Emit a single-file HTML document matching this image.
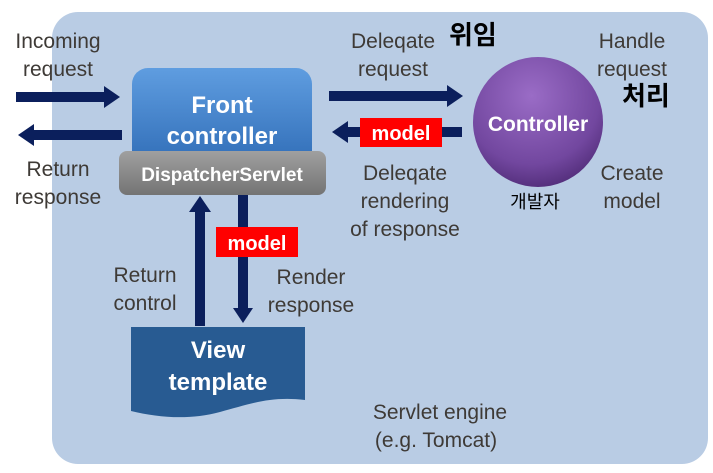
<!DOCTYPE html>
<html><head><meta charset="utf-8"><style>
html,body{margin:0;padding:0;background:#fff;}
svg{display:block;}
text{font-family:"Liberation Sans","Noto Sans CJK KR",sans-serif;}
</style></head><body>
<svg width="713" height="473" viewBox="0 0 713 473" xmlns="http://www.w3.org/2000/svg">
<defs>
<linearGradient id="fc" x1="0" y1="0" x2="0" y2="1"><stop offset="0" stop-color="#5f9de0"/><stop offset="1" stop-color="#2f6cb6"/></linearGradient>
<linearGradient id="ds" x1="0" y1="0" x2="0" y2="1"><stop offset="0" stop-color="#a0a0a0"/><stop offset="1" stop-color="#747474"/></linearGradient>
<radialGradient id="cc" cx="0.45" cy="0.3" r="0.75"><stop offset="0" stop-color="#9a6cc6"/><stop offset="0.7" stop-color="#72479f"/><stop offset="1" stop-color="#4e2a75"/></radialGradient>
</defs>
<rect x="52" y="12" width="656" height="452" rx="26" fill="#b9cce4"/>
<g fill="#3e3a36" font-size="21" text-anchor="middle">
<text x="58" y="48">Incoming</text><text x="58" y="76">request</text>
<text x="58" y="176">Return</text><text x="58" y="204">response</text>
<text x="393" y="48">Deleqate</text><text x="393" y="76">request</text>
<text x="632" y="48">Handle</text><text x="632" y="76">request</text>
<text x="405" y="180">Deleqate</text><text x="405" y="208">rendering</text><text x="405" y="236">of response</text>
<text x="632" y="180">Create</text><text x="632" y="208">model</text>
<text x="145" y="282">Return</text><text x="145" y="310">control</text>
<text x="311" y="284">Render</text><text x="311" y="312">response</text>
<text x="440" y="419">Servlet engine</text><text x="436" y="447">(e.g. Tomcat)</text>
</g>
<g fill="#000" font-size="26" font-weight="bold"><text x="449" y="44">위임</text><text x="622" y="105">처리</text></g>
<text x="535" y="208" font-size="18" text-anchor="middle" fill="#000">개발자</text>
<g fill="#0b1f5c">
<rect x="16" y="92" width="88" height="10"/><polygon points="104,86 120,97 104,108"/>
<rect x="34" y="130" width="88" height="10"/><polygon points="34,124 18,135 34,146"/>
<rect x="329" y="91" width="118" height="10"/><polygon points="447,85 463,96 447,107"/>
<rect x="348" y="127" width="114" height="10"/><polygon points="348,121 332,132 348,143"/>
<rect x="195" y="210" width="10" height="116"/><polygon points="189,212 200,196 211,212"/>
<rect x="238" y="194" width="10" height="114"/><polygon points="233,308 243,323 253,308"/>
</g>
<rect x="132" y="68" width="180" height="100" rx="16" fill="url(#fc)"/>
<g fill="#fff" font-weight="bold" font-size="24" text-anchor="middle"><text x="222" y="113">Front</text><text x="222" y="144">controller</text></g>
<rect x="119" y="151" width="207" height="44" rx="8" fill="url(#ds)"/>
<text x="222" y="181" fill="#fff" font-weight="bold" font-size="19" text-anchor="middle">DispatcherServlet</text>
<rect x="216" y="227" width="82" height="30" fill="#ff0000"/>
<text x="257" y="250" fill="#fff" font-weight="bold" font-size="20" text-anchor="middle">model</text>
<rect x="360" y="118" width="82" height="29" fill="#ff0000"/>
<text x="401" y="140" fill="#fff" font-weight="bold" font-size="20" text-anchor="middle">model</text>
<circle cx="538" cy="122" r="65" fill="url(#cc)"/>
<text x="538" y="131" fill="#fff" font-weight="bold" font-size="21" text-anchor="middle">Controller</text>
<path d="M131,327 L305,327 L305,400 C270,396 250,404 220,412 C190,420 160,418 131,411 Z" fill="#285b92"/>
<g fill="#fff" font-weight="bold" font-size="24" text-anchor="middle"><text x="218" y="358">View</text><text x="218" y="390">template</text></g>
</svg>
</body></html>
